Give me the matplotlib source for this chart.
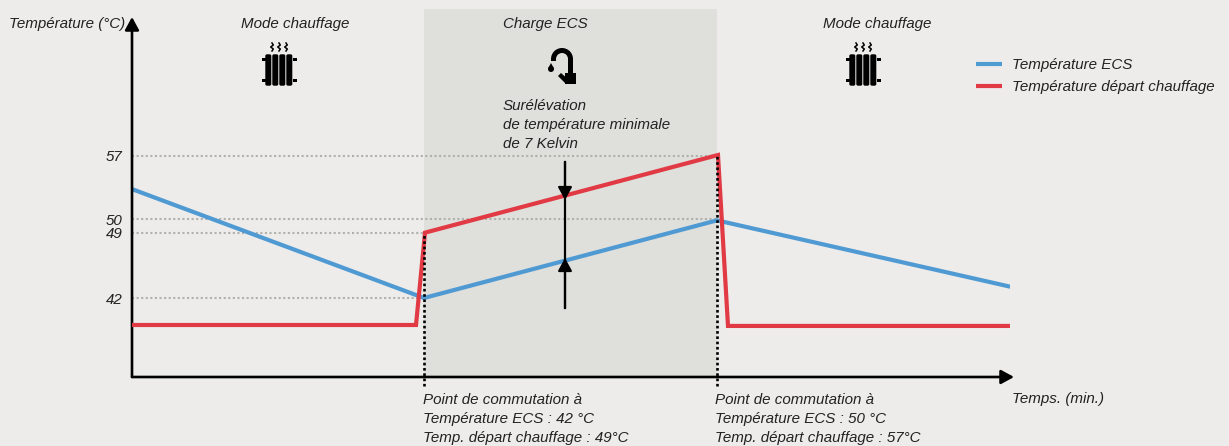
import matplotlib
matplotlib.use("Agg")
import matplotlib.pyplot as plt
from matplotlib.patches import Circle, FancyBboxPatch, Polygon, Rectangle, Wedge

WIDTH, HEIGHT = 1229, 446
BG = "#edecea"
SHADE = "#dfdfdb"
BLUE = "#4f9ad3"
RED = "#e13a45"
GREY = "#b0b0ac"
FONT_SIZE = 10.9

# the data, time in arbitrary minutes
ecs_time = [0, 29.2, 58.5, 87.8]
ecs_temp = [53.5, 42.0, 50.2, 43.2]
depart_time = [0, 28.4, 29.3, 58.6, 59.6, 87.8]
depart_temp = [39.15, 39.15, 48.9, 57.1, 39.05, 39.05]
switch_times = [29.2, 58.5]
tick_pos = [42, 48.9, 50.3, 57]
tick_labels = ["42", "49", "50", "57"]
guide_ends = [29.2, 29.2, 58.5, 58.5]

plt.rcParams["font.family"] = ["Liberation Sans", "DejaVu Sans"]
plt.rcParams["font.style"] = "italic"
plt.rcParams["font.size"] = FONT_SIZE


def draw_radiator(ax, cx):
    for dx in (-14, -7, 0, 7):
        ax.add_patch(FancyBboxPatch((cx + dx + 2, 56), 2.6, 28, boxstyle="round,pad=1.7",
                                    fc="black", ec="none"))
    for sx in (-17, 14):
        for y in (59, 80):
            ax.add_patch(Rectangle((cx + sx, y - 1.5), 3.5, 3, fc="black", ec="none"))
    for dx in (-7, 0, 7):
        ax.plot([cx + dx, cx + dx + 1.3, cx + dx - 1.3, cx + dx + 1.3, cx + dx],
                [43, 45, 47, 49, 51], color="black", lw=1.1)


def draw_tap(ax):
    ax.add_patch(Wedge((562, 59), 11, 180, 360, width=5, fc="black", ec="none"))
    ax.add_patch(Rectangle((568, 59), 5, 16, fc="black", ec="none"))
    ax.add_patch(Rectangle((551, 59), 5, 2, fc="black", ec="none"))
    ax.add_patch(Rectangle((565, 73), 11, 11, fc="black", ec="none"))
    ax.add_patch(Polygon([(558, 76), (561, 73), (569, 80), (566, 84)], fc="black", ec="none"))
    ax.add_patch(Circle((551, 69), 3, fc="black", ec="none"))
    ax.add_patch(Polygon([(548.3, 68), (553.7, 68), (551, 63)], fc="black", ec="none"))


def main():
    fig = plt.figure(figsize=(WIDTH / 100, HEIGHT / 100), dpi=100, facecolor=BG)
    # chart area, left spine at x=132 and bottom spine at y=377
    ax = fig.add_axes([132 / WIDTH, 1 - 377 / HEIGHT, 878 / WIDTH, 368 / HEIGHT], facecolor="none")
    ax.set_xlim(0, 87.8)
    ax.set_ylim(42 - 79 / 9.47, 42 + 289 / 9.47)

    for name in ("top", "right", "left", "bottom"):
        ax.spines[name].set_visible(False)
    ax.set_xticks([])
    ax.set_yticks(tick_pos, tick_labels, fontsize=FONT_SIZE, style="italic", color="#222222")
    ax.tick_params(axis="y", length=0, pad=7)

    ax.axvspan(switch_times[0], switch_times[1], color=SHADE, lw=0, zorder=0)
    for pos, end in zip(tick_pos, guide_ends):
        ax.plot([0, end], [pos, pos], color=GREY, lw=1.5, ls=(0, (1, 1.2)), zorder=1)

    ax.plot(ecs_time, ecs_temp, color=BLUE, lw=3.0, solid_joinstyle="miter", zorder=3)
    ax.plot(depart_time, depart_temp, color=RED, lw=3.0, solid_joinstyle="miter", zorder=4)

    bottom = ax.get_ylim()[0]
    for t, top in zip(switch_times, [48.9, 57.1]):
        ax.plot([t, t], [bottom - 0.9, top], color="black", lw=1.9, ls=(0, (1, 1)),
                clip_on=False, zorder=5)

    # axes with arrow heads
    head = dict(arrowstyle="-|>,head_length=0.55,head_width=0.3", color="black",
                lw=1.9, shrinkA=0, shrinkB=0, mutation_scale=14)
    ax.annotate("", xy=(0, 42 + 281 / 9.47), xytext=(0, bottom), annotation_clip=False, arrowprops=head)
    ax.annotate("", xy=(88.2, bottom), xytext=(0, bottom), annotation_clip=False, arrowprops=head)

    # overlay in pixels for the notes and icons
    over = fig.add_axes([0, 0, 1, 1], facecolor="none")
    over.set_xlim(0, WIDTH)
    over.set_ylim(HEIGHT, 0)
    over.axis("off")

    # the two arrows of the 7 Kelvin gap
    gap_head = dict(head, lw=1.6, mutation_scale=14)
    for start, tip in ((162, 200), (308, 258)):
        over.annotate("", xy=(565, tip), xytext=(565, start), arrowprops=gap_head)
    over.plot([565, 565], [162, 308], color="black", lw=1.6, zorder=5)

    notes = [
        (9, 24, "Température (°C)"),
        (241, 24, "Mode chauffage"),
        (503, 24, "Charge ECS"),
        (823, 24, "Mode chauffage"),
        (503, 106, "Surélévation"),
        (503, 125, "de température minimale"),
        (503, 144, "de 7 Kelvin"),
        (1012, 65, "Température ECS"),
        (1012, 87, "Température départ chauffage"),
        (1012, 399, "Temps. (min.)"),
        (423, 400, "Point de commutation à"),
        (423, 419, "Température ECS : 42 °C"),
        (423, 438, "Temp. départ chauffage : 49°C"),
        (715, 400, "Point de commutation à"),
        (715, 419, "Température ECS : 50 °C"),
        (715, 438, "Temp. départ chauffage : 57°C"),
    ]
    for x, y, text in notes:
        over.text(x, y, text, ha="left", va="center", color="#222222")

    over.plot([976, 1002], [64, 64], color=BLUE, lw=3.0, solid_capstyle="butt")
    over.plot([976, 1002], [86, 86], color=RED, lw=3.0, solid_capstyle="butt")

    draw_radiator(over, 279)
    draw_radiator(over, 863)
    draw_tap(over)

    fig.savefig("out.png", dpi=100, facecolor=BG)


if __name__ == "__main__":
    main()
